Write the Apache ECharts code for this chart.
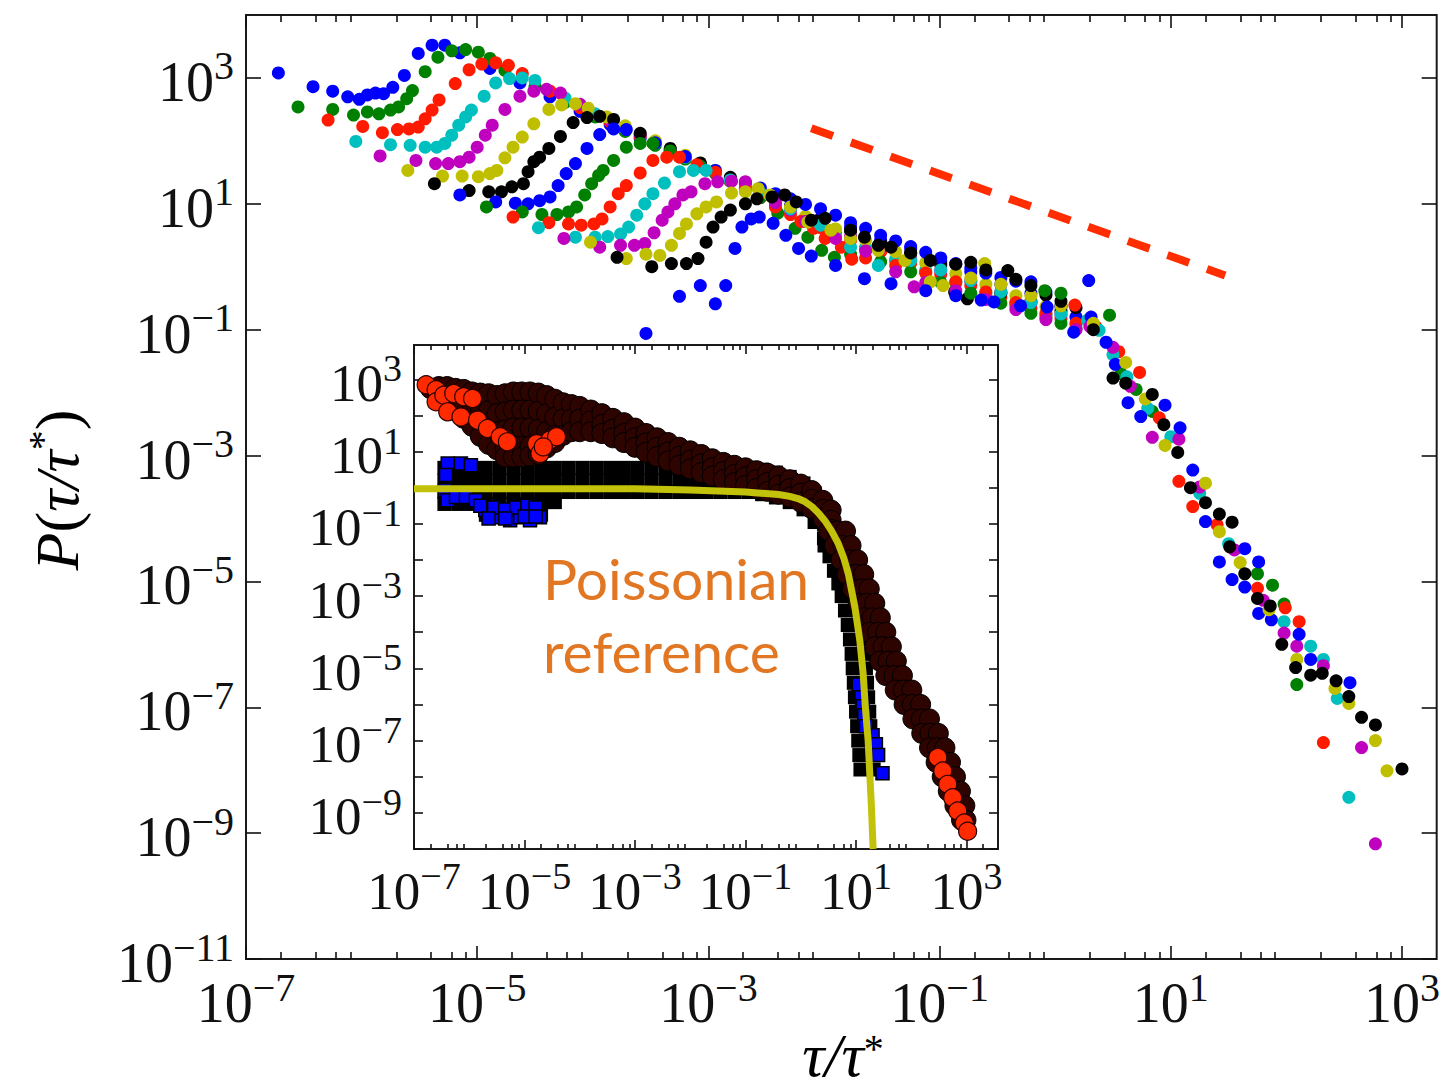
<!DOCTYPE html>
<html><head><meta charset="utf-8">
<script src="https://cdn.jsdelivr.net/npm/echarts@6/dist/echarts.min.js"></script>
<style>html,body{margin:0;padding:0;background:#fff}#c{width:1443px;height:1090px}</style>
</head><body><div id="c"></div>
<script>
// All values are base-10 exponents: [log10(tau/tau*), log10(P)]
// ---------- main panel: 15 rescaled curves ----------
const curveB1 = [[-6.72,3.08],[-6.42,2.86],[-6.25,2.79],[-6.12,2.70],[-6.02,2.66],[-5.95,2.73],[-5.88,2.76],[-5.81,2.75],[-5.73,2.85],[-5.63,3.04],[-5.51,3.39],[-5.39,3.52],[-5.28,3.52],[-5.15,3.40],[-4.89,3.15],[-4.63,2.92],[-4.37,2.70],[-4.11,2.47],[-3.85,2.26],[-3.59,2.04],[-3.33,1.82],[-3.07,1.60],[-2.81,1.38],[-2.55,1.16],[-2.29,0.97],[-2.03,0.77],[-1.77,0.63],[-1.51,0.42],[-1.25,0.29],[-0.99,0.08],[-0.73,-0.08],[-0.47,-0.28],[-0.21,-0.42],[0.05,-0.63]];
const curveG1 = [[-6.55,2.54],[-6.25,2.50],[-6.07,2.41],[-5.95,2.46],[-5.85,2.43],[-5.75,2.49],[-5.68,2.54],[-5.61,2.67],[-5.56,2.80],[-5.45,3.10],[-5.34,3.33],[-5.22,3.43],[-5.10,3.45],[-4.99,3.41],[-4.89,3.31],[-4.76,3.12],[-4.50,2.86],[-4.24,2.61],[-3.98,2.38],[-3.72,2.15],[-3.46,1.93],[-3.20,1.71],[-2.94,1.48],[-2.68,1.24],[-2.42,0.98],[-2.16,0.72],[-1.90,0.52],[-1.64,0.30],[-1.38,0.10],[-1.12,-0.08],[-0.86,-0.26],[-0.60,-0.45],[-0.34,-0.62],[-0.08,-0.80],[0.18,-0.98]];
const curveR1 = [[-6.29,2.33],[-5.99,2.23],[-5.82,2.13],[-5.69,2.18],[-5.59,2.19],[-5.51,2.22],[-5.45,2.35],[-5.39,2.49],[-5.33,2.65],[-5.19,2.91],[-5.07,3.13],[-4.96,3.22],[-4.84,3.24],[-4.73,3.20],[-4.61,3.07],[-4.37,2.79],[-4.11,2.53],[-3.85,2.30],[-3.59,2.07],[-3.33,1.84],[-3.07,1.61],[-2.81,1.36],[-2.55,1.10],[-2.29,0.83],[-2.03,0.62],[-1.77,0.42],[-1.51,0.24],[-1.25,0.06],[-0.99,-0.12],[-0.73,-0.30],[-0.47,-0.48],[-0.21,-0.66],[0.05,-0.82]];
const curveC1 = [[-6.05,1.99],[-5.75,1.94],[-5.58,1.93],[-5.45,1.90],[-5.35,1.90],[-5.28,1.96],[-5.22,2.09],[-5.16,2.25],[-5.10,2.38],[-5.05,2.49],[-4.94,2.71],[-4.84,2.92],[-4.72,2.99],[-4.61,3.00],[-4.50,2.96],[-4.24,2.68],[-3.98,2.43],[-3.72,2.20],[-3.46,1.97],[-3.20,1.74],[-2.94,1.51],[-2.68,1.27],[-2.42,1.00],[-2.16,0.73],[-1.90,0.50],[-1.64,0.30],[-1.38,0.12],[-1.12,-0.06],[-0.86,-0.24],[-0.60,-0.41],[-0.34,-0.58],[-0.08,-0.76],[0.18,-0.92]];
const curveM1 = [[-5.84,1.76],[-5.53,1.69],[-5.36,1.64],[-5.25,1.64],[-5.15,1.67],[-5.07,1.74],[-5.00,1.90],[-4.93,2.09],[-4.87,2.25],[-4.76,2.50],[-4.63,2.71],[-4.51,2.79],[-4.40,2.82],[-4.28,2.76],[-4.11,2.58],[-3.85,2.33],[-3.59,2.10],[-3.33,1.86],[-3.07,1.63],[-2.81,1.40],[-2.55,1.15],[-2.29,0.90],[-2.03,0.68],[-1.77,0.48],[-1.51,0.30],[-1.25,0.12],[-0.99,-0.06],[-0.73,-0.23],[-0.47,-0.40],[-0.21,-0.58],[0.05,-0.76]];
const curveY1 = [[-5.60,1.53],[-5.30,1.44],[-5.13,1.44],[-4.99,1.43],[-4.89,1.48],[-4.83,1.53],[-4.76,1.73],[-4.69,1.90],[-4.61,2.06],[-4.51,2.27],[-4.38,2.50],[-4.27,2.57],[-4.15,2.59],[-4.04,2.52],[-3.88,2.38],[-3.72,2.24],[-3.46,2.00],[-3.20,1.77],[-2.94,1.53],[-2.68,1.30],[-2.42,1.03],[-2.16,0.80],[-1.90,0.60],[-1.64,0.42],[-1.38,0.24],[-1.12,0.06],[-0.86,-0.11],[-0.60,-0.28],[-0.34,-0.46],[-0.08,-0.63],[0.18,-0.80]];
const curveK1 = [[-5.37,1.32],[-5.07,1.21],[-4.90,1.19],[-4.79,1.19],[-4.70,1.27],[-4.60,1.32],[-4.56,1.51],[-4.51,1.67],[-4.46,1.74],[-4.38,1.88],[-4.28,2.07],[-4.17,2.29],[-4.05,2.37],[-3.94,2.39],[-3.82,2.34],[-3.59,2.12],[-3.33,1.88],[-3.07,1.65],[-2.81,1.42],[-2.55,1.18],[-2.29,0.95],[-2.03,0.75],[-1.77,0.57],[-1.51,0.38],[-1.25,0.22],[-0.99,0.03],[-0.87,-0.40],[-0.76,-0.51],[-0.47,-0.42],[-0.21,-0.55],[0.05,-0.70]];
const curveB2 = [[-5.15,1.14],[-4.84,1.03],[-4.67,1.01],[-4.56,1.00],[-4.46,1.05],[-4.37,1.11],[-4.30,1.29],[-4.23,1.48],[-4.15,1.64],[-4.05,1.88],[-3.94,2.10],[-3.82,2.19],[-3.71,2.18],[-3.46,1.97],[-3.20,1.75],[-2.94,1.53],[-2.68,1.34],[-2.55,1.25],[-2.42,1.16],[-2.29,1.08],[-2.16,0.99],[-2.03,0.92],[-1.90,0.82],[-1.77,0.70],[-1.64,0.61],[-1.51,0.50],[-1.38,0.41],[-1.25,0.32],[-1.12,0.23],[-0.99,0.14],[-0.86,0.05],[-0.73,-0.02],[-0.60,-0.10],[-0.47,-0.17],[-0.34,-0.23],[-0.21,-0.24],[-0.08,-0.40],[0.05,-0.62],[0.18,-0.80]];
const curveG2 = [[-4.92,0.95],[-4.61,0.87],[-4.44,0.83],[-4.31,0.83],[-4.21,0.87],[-4.14,0.95],[-4.07,1.14],[-4.01,1.32],[-3.95,1.45],[-3.91,1.53],[-3.82,1.69],[-3.71,1.90],[-3.59,1.96],[-3.48,1.96],[-3.33,1.84],[-3.07,1.60],[-2.81,1.36],[-2.55,1.10],[-2.40,0.85],[-2.25,0.61],[-2.14,0.47],[-2.02,0.26],[-1.91,0.15],[-1.77,0.20],[-1.51,0.08],[-1.25,-0.08],[-0.99,-0.25],[-0.73,-0.42],[-0.47,-0.58],[-0.21,-0.74],[0.05,-0.90]];
const curveR2 = [[-4.69,0.79],[-4.38,0.70],[-4.21,0.68],[-4.10,0.66],[-3.99,0.68],[-3.92,0.76],[-3.85,0.95],[-3.78,1.16],[-3.71,1.29],[-3.59,1.49],[-3.48,1.69],[-3.36,1.74],[-3.25,1.74],[-3.10,1.62],[-2.94,1.50],[-2.68,1.25],[-2.42,0.95],[-2.20,0.72],[-2.09,0.61],[-1.99,0.45],[-1.85,0.31],[-1.76,0.12],[-1.64,0.14],[-1.38,0.02],[-1.12,-0.10],[-0.86,-0.24],[-0.60,-0.40],[-0.34,-0.57],[-0.08,-0.74],[0.18,-0.90]];
const curveC2 = [[-4.47,0.62],[-4.15,0.47],[-3.98,0.47],[-3.87,0.48],[-3.76,0.52],[-3.69,0.63],[-3.62,0.82],[-3.55,1.00],[-3.48,1.16],[-3.38,1.33],[-3.25,1.51],[-3.13,1.53],[-3.02,1.53],[-2.81,1.38],[-2.55,1.17],[-2.29,0.92],[-2.03,0.66],[-1.77,0.31],[-1.53,0.02],[-1.25,0.10],[-0.99,-0.05],[-0.73,-0.22],[-0.47,-0.40],[-0.21,-0.57],[0.05,-0.75]];
const curveM2 = [[-4.25,0.45],[-3.94,0.31],[-3.76,0.34],[-3.64,0.34],[-3.55,0.37],[-3.47,0.54],[-3.40,0.74],[-3.35,0.87],[-3.29,1.00],[-3.22,1.14],[-3.15,1.19],[-3.03,1.32],[-2.92,1.35],[-2.80,1.36],[-2.68,1.35],[-2.42,1.02],[-2.16,0.72],[-1.90,0.45],[-1.64,0.25],[-1.38,-0.08],[-1.22,-0.32],[-1.12,-0.25],[-0.86,-0.38],[-0.60,-0.52],[-0.34,-0.68],[-0.08,-0.84],[0.18,-1.00]];
const curveY2 = [[-4.02,0.39],[-3.71,0.13],[-3.54,0.20],[-3.42,0.18],[-3.32,0.34],[-3.25,0.53],[-3.19,0.68],[-3.10,0.84],[-3.02,0.95],[-2.93,1.03],[-2.80,1.17],[-2.68,1.19],[-2.57,1.24],[-2.47,1.14],[-2.29,0.95],[-2.14,0.71],[-1.94,0.58],[-1.77,0.45],[-1.53,0.26],[-1.30,0.10],[-1.08,-0.24],[-0.97,-0.30],[-0.73,-0.18],[-0.61,0.05],[-0.47,-0.28],[-0.21,-0.46],[0.05,-0.62]];
const curveK2 = [[-3.79,0.15],[-3.49,0.00],[-3.32,0.05],[-3.19,0.05],[-3.09,0.13],[-3.02,0.39],[-2.96,0.63],[-2.89,0.79],[-2.81,0.90],[-2.68,1.00],[-2.58,1.08],[-2.45,1.11],[-2.34,1.14],[-2.24,1.03],[-2.11,0.74],[-1.99,0.77],[-1.77,0.58],[-1.65,0.47],[-1.53,0.34],[-1.42,0.31],[-1.25,0.22],[-1.08,0.10],[-0.86,0.04],[-0.73,0.07],[-0.60,-0.05],[-0.41,-0.06],[-0.34,-0.20],[-0.21,-0.30],[-0.08,-0.45],[0.05,-0.55],[0.18,-0.65]];
const curveB3 = [[-3.54,-1.06],[-3.25,-0.47],[-3.07,-0.30],[-2.94,-0.59],[-2.85,-0.30],[-2.77,0.29],[-2.71,0.63],[-2.63,0.76],[-2.56,0.79],[-2.44,0.69],[-2.33,0.50],[-2.22,0.29],[-2.11,0.17],[-1.90,0.02],[-1.65,-0.19],[-1.42,-0.27],[-1.12,-0.38],[-0.86,-0.46],[-0.64,-0.53],[-0.53,-0.56],[-0.30,-0.62],[-0.07,-0.64]];
// steep tail beyond the cutoff, per colour
const tailGreen = [[-0.09,-0.38],[0.05,-0.42],[0.47,-0.77],[0.31,-0.95],[0.57,-1.70],[0.70,-1.95],[0.84,-2.30],[1.75,-4.88],[1.88,-5.06],[1.98,-5.36],[2.09,-6.64]];
const tailRed = [[0.17,-0.61],[0.35,-0.95],[0.55,-1.35],[0.73,-1.68],[0.90,-2.40],[1.07,-3.41],[1.19,-3.81],[1.40,-4.10],[1.75,-5.11],[1.99,-5.42],[2.11,-5.64],[2.32,-7.56]];
const tailCyan = [[0.28,-0.85],[0.38,-1.01],[0.50,-1.40],[0.62,-1.75],[0.80,-2.25],[1.00,-2.70],[1.25,-3.60],[1.50,-4.40],[1.98,-5.64],[2.21,-6.03],[2.32,-6.24],[2.44,-6.86],[2.54,-8.43]];
const tailMagenta = [[0.30,-0.95],[0.50,-1.28],[0.65,-1.90],[0.84,-2.71],[1.07,-2.74],[1.25,-3.50],[1.55,-4.50],[1.80,-5.30],[1.98,-5.82],[2.09,-6.03],[2.32,-6.34],[2.65,-7.64],[2.77,-9.17]];
const tailBlue = [[0.29,-0.22],[0.16,-1.04],[0.31,-0.80],[0.44,-1.20],[0.52,-1.55],[0.63,-2.16],[0.74,-2.38],[0.95,-2.20],[1.08,-2.56],[1.19,-3.23],[1.30,-4.05],[1.42,-4.69],[1.53,-4.97],[1.64,-4.48],[1.64,-5.09],[1.76,-4.69],[1.76,-5.51],[1.87,-5.61],[2.11,-5.84],[2.21,-6.24],[2.55,-6.61]];
const tailYellow = [[0.33,-0.90],[0.61,-1.52],[0.78,-2.10],[0.95,-2.84],[1.30,-3.44],[1.42,-4.21],[1.60,-4.70],[1.85,-5.45],[2.09,-6.24],[2.42,-6.70],[2.54,-6.94],[2.77,-7.53],[2.87,-8.01]];
const tailBlack = [[0.33,-1.00],[0.50,-1.77],[0.61,-1.85],[0.84,-2.03],[0.94,-2.51],[1.06,-2.95],[1.17,-3.51],[1.30,-3.75],[1.42,-3.93],[1.53,-4.06],[1.51,-4.45],[1.64,-4.88],[1.75,-5.27],[1.86,-5.39],[1.96,-6.00],[2.08,-6.37],[2.21,-6.49],[2.31,-6.46],[2.43,-6.58],[2.54,-6.83],[2.65,-7.16],[2.77,-7.28],[3.00,-7.98]];
// dashed guide line (endpoints)
const guideX = [-2.11, 1.47];
const guideY = [2.20, -0.14];

// ---------- inset ----------
const insetRedDark = [[-6.70,2.74],[-6.55,2.80],[-6.55,2.50],[-6.40,2.80],[-6.40,2.55],[-6.40,2.30],[-6.25,2.75],[-6.25,2.44],[-6.25,2.13],[-6.10,2.72],[-6.10,2.32],[-6.10,1.92],[-5.95,2.65],[-5.95,2.17],[-5.95,1.70],[-5.80,2.62],[-5.80,2.22],[-5.80,1.82],[-5.80,1.42],[-5.65,2.60],[-5.65,2.13],[-5.65,1.67],[-5.65,1.20],[-5.50,2.55],[-5.50,2.05],[-5.50,1.55],[-5.50,1.05],[-5.35,2.60],[-5.35,2.10],[-5.35,1.60],[-5.35,1.10],[-5.35,0.85],[-5.20,2.65],[-5.20,2.15],[-5.20,1.65],[-5.20,1.15],[-5.20,0.85],[-5.05,2.65],[-5.05,2.15],[-5.05,1.65],[-5.05,1.15],[-5.05,0.85],[-4.90,2.65],[-4.90,2.15],[-4.90,1.65],[-4.90,1.15],[-4.90,0.88],[-4.75,2.62],[-4.75,2.12],[-4.75,1.62],[-4.75,1.12],[-4.75,0.92],[-4.60,2.55],[-4.60,2.05],[-4.60,1.55],[-4.60,1.10],[-4.45,2.45],[-4.45,1.95],[-4.45,1.45],[-4.45,1.25],[-4.30,2.35],[-4.30,1.90],[-4.30,1.45],[-4.15,2.30],[-4.15,1.90],[-4.15,1.55],[-4.00,2.25],[-4.00,1.90],[-4.00,1.55],[-3.80,2.15],[-3.80,1.85],[-3.80,1.55],[-3.60,2.05],[-3.60,1.75],[-3.60,1.50],[-3.40,1.92],[-3.40,1.62],[-3.40,1.38],[-3.20,1.80],[-3.20,1.50],[-3.20,1.25],[-3.00,1.65],[-3.00,1.38],[-3.00,1.12],[-2.80,1.50],[-2.80,1.24],[-2.80,0.98],[-2.60,1.38],[-2.60,1.12],[-2.60,0.86],[-2.40,1.25],[-2.40,0.99],[-2.40,0.74],[-2.20,1.12],[-2.20,0.87],[-2.20,0.62],[-2.00,1.02],[-2.00,0.76],[-2.00,0.52],[-1.80,0.92],[-1.80,0.66],[-1.80,0.42],[-1.60,0.80],[-1.60,0.55],[-1.60,0.32],[-1.40,0.70],[-1.40,0.45],[-1.40,0.22],[-1.20,0.62],[-1.20,0.37],[-1.20,0.14],[-1.00,0.55],[-1.00,0.30],[-1.00,0.06],[-0.80,0.47],[-0.80,0.22],[-0.80,-0.02],[-0.60,0.40],[-0.60,0.15],[-0.60,-0.10],[-0.40,0.32],[-0.40,0.07],[-0.40,-0.18],[-0.20,0.22],[-0.20,-0.02],[-0.20,-0.26],[0.00,0.10],[0.00,-0.15],[0.00,-0.40],[0.20,-0.08],[0.20,-0.32],[0.20,-0.58],[0.40,-0.35],[0.40,-0.60],[0.40,-0.85],[0.55,-0.62],[0.55,-0.90],[0.55,-1.15],[0.51,-1.2],[0.66,-1.2],[0.81,-1.2],[0.61,-1.6],[0.76,-1.6],[0.91,-1.6],[0.73,-2.0],[0.88,-2.0],[1.03,-2.0],[0.84,-2.4],[0.99,-2.4],[1.14,-2.4],[0.94,-2.8],[1.09,-2.8],[1.24,-2.8],[1.04,-3.2],[1.19,-3.2],[1.34,-3.2],[1.14,-3.6],[1.29,-3.6],[1.44,-3.6],[1.24,-4.0],[1.39,-4.0],[1.54,-4.0],[1.34,-4.4],[1.49,-4.4],[1.64,-4.4],[1.43,-4.8],[1.58,-4.8],[1.73,-4.8],[1.54,-5.2],[1.69,-5.2],[1.84,-5.2],[1.71,-5.6],[1.86,-5.6],[2.01,-5.6],[1.87,-6.0],[2.02,-6.0],[2.17,-6.0],[2.03,-6.4],[2.18,-6.4],[2.33,-6.4],[2.19,-6.8],[2.34,-6.8],[2.49,-6.8],[2.33,-7.2],[2.47,-7.2],[2.61,-7.2],[2.45,-7.6],[2.58,-7.6],[2.71,-7.6],[2.56,-8.0],[2.68,-8.0],[2.80,-8.0],[2.67,-8.4],[2.78,-8.4],[2.89,-8.4],[2.79,-8.8],[2.88,-8.8],[2.97,-8.8],[2.91,-9.2],[2.99,-9.2]];
const insetRedBright = [[-6.78,2.85],[-6.60,2.71],[-6.60,2.38],[-6.46,2.56],[-6.28,2.61],[-6.39,2.10],[-6.10,2.52],[-5.94,2.47],[-6.15,1.96],[-5.85,1.87],[-5.67,1.64],[-5.44,1.41],[-5.31,1.27],[-4.78,1.22],[-4.72,0.95],[-4.54,1.32],[-4.42,1.41],[-4.66,1.13],[2.48,-7.47],[2.57,-7.84],[2.66,-8.21],[2.75,-8.58],[2.84,-8.95],[2.96,-9.28],[3.02,-9.51]];
const insetSquaresDark = [[-6.45,0.55],[-6.45,0.20],[-6.45,-0.12],[-6.45,-0.45],[-6.20,0.55],[-6.20,0.20],[-6.20,-0.12],[-6.20,-0.45],[-5.95,0.55],[-5.95,0.20],[-5.95,-0.12],[-5.95,-0.45],[-5.70,0.55],[-5.70,0.20],[-5.70,-0.12],[-5.70,-0.45],[-5.70,-0.75],[-5.45,0.55],[-5.45,0.20],[-5.45,-0.12],[-5.45,-0.45],[-5.45,-0.75],[-5.20,0.55],[-5.20,0.20],[-5.20,-0.12],[-5.20,-0.45],[-5.20,-0.75],[-4.95,0.55],[-4.95,0.20],[-4.95,-0.12],[-4.95,-0.45],[-4.95,-0.75],[-4.70,0.55],[-4.70,0.20],[-4.70,-0.12],[-4.70,-0.45],[-4.70,-0.75],[-4.45,0.55],[-4.45,0.20],[-4.45,-0.12],[-4.45,-0.40],[-4.20,0.55],[-4.20,0.20],[-4.20,-0.12],[-3.95,0.55],[-3.95,0.20],[-3.95,-0.12],[-3.70,0.55],[-3.70,0.20],[-3.70,-0.12],[-3.45,0.55],[-3.45,0.20],[-3.45,-0.12],[-3.20,0.55],[-3.20,0.20],[-3.20,-0.12],[-2.95,0.55],[-2.95,0.20],[-2.95,-0.12],[-2.70,0.55],[-2.70,0.20],[-2.70,-0.12],[-2.45,0.55],[-2.45,0.20],[-2.45,-0.12],[-2.20,0.55],[-2.20,0.20],[-2.20,-0.12],[-1.95,0.55],[-1.95,0.20],[-1.95,-0.12],[-1.70,0.55],[-1.70,0.20],[-1.70,-0.12],[-1.45,0.55],[-1.45,0.20],[-1.45,-0.12],[-1.20,0.55],[-1.20,0.20],[-1.20,-0.12],[-0.95,0.55],[-0.95,0.20],[-0.95,-0.12],[-0.70,0.50],[-0.70,0.15],[-0.70,-0.18],[-0.45,0.42],[-0.45,0.07],[-0.45,-0.27],[-0.20,0.30],[-0.20,-0.05],[-0.20,-0.40],[0.05,0.12],[0.05,-0.25],[0.05,-0.60],[0.25,-0.15],[0.25,-0.55],[0.25,-0.95],[0.42,-0.60],[0.42,-1.00],[0.42,-1.40],[0.43,-1.6],[0.67,-1.6],[0.52,-1.9],[0.76,-1.9],[0.60,-2.3],[0.84,-2.3],[0.68,-2.65],[0.92,-2.65],[0.74,-3.0],[0.98,-3.0],[0.80,-3.4],[1.04,-3.4],[0.85,-3.8],[1.09,-3.8],[0.89,-4.2],[1.13,-4.2],[0.92,-4.6],[1.16,-4.6],[0.94,-5.0],[1.18,-5.0],[0.96,-5.4],[1.20,-5.4],[0.98,-5.8],[1.22,-5.8],[1.00,-6.2],[1.24,-6.2],[1.02,-6.6],[1.26,-6.6],[1.04,-7.0],[1.28,-7.0],[1.06,-7.4],[1.30,-7.4],[1.08,-7.8],[1.32,-7.8]];
const insetSquaresBlue = [[-6.39,0.67],[-6.15,0.67],[-5.97,0.62],[-6.42,0.35],[-6.44,-0.07],[-6.39,-0.35],[-6.24,-0.26],[-6.06,-0.26],[-5.88,-0.35],[-5.71,-0.62],[-5.62,-0.76],[-5.44,-0.82],[-5.26,-0.90],[-5.08,-0.82],[-4.90,-0.68],[-4.72,-0.82],[-4.90,-0.90],[-5.80,-0.50],[-5.55,-0.55],[-5.35,-0.60],[-5.15,-0.55],[-4.95,-0.50],[-4.80,-0.55],[-5.65,-0.85],[-5.35,-0.85],[-5.00,-0.80],[-4.80,-0.80],[1.05,-5.45],[1.10,-5.80],[1.12,-6.05],[1.15,-6.30],[1.18,-6.60],[1.30,-6.85],[1.36,-7.10],[1.40,-7.40],[1.48,-7.90]];
const poissonRef = [[-7.00,-0.03],[-3.00,-0.03],[-2.00,-0.06],[-1.50,-0.09],[-1.00,-0.12],[-0.64,-0.16],[-0.40,-0.19],[-0.20,-0.24],[-0.05,-0.30],[0.08,-0.39],[0.20,-0.52],[0.32,-0.70],[0.44,-0.92],[0.56,-1.20],[0.68,-1.55],[0.78,-1.95],[0.86,-2.38],[0.98,-3.31],[1.07,-4.24],[1.13,-5.16],[1.17,-6.09],[1.22,-7.01],[1.25,-7.94],[1.28,-8.86],[1.31,-10.00]];

// tick values (exponents)
const mainXMajor = [-7,-5,-3,-1,1,3];
const mainYMajor = [-11,-9,-7,-5,-3,-1,1,3];
const insetXMajor = [-7,-5,-3,-1,1,3];
const insetYTicks = [-10,-9,-8,-7,-6,-5,-4,-3,-2,-1,0,1,2,3];
const insetYLabels = [-9,-7,-5,-3,-1,1,3];
const MINOR_MULT = [2,4,6,8];

const curveList = [curveB1,curveG1,curveR1,curveC1,curveM1,curveY1,curveK1,curveB2,curveG2,curveR2,curveC2,curveM2,curveY2,curveK2,curveB3];
const C = {b:'#0000ff', g:'#008000', r:'#ff1a00', c:'#00bfbf', m:'#bf00bf', y:'#bfbf00', k:'#000000'};
const curveColors = [C.b,C.g,C.r,C.c,C.m,C.y,C.k,C.b,C.g,C.r,C.c,C.m,C.y,C.k,C.b];
const tailList = [[tailGreen,C.g],[tailRed,C.r],[tailCyan,C.c],[tailMagenta,C.m],[tailBlue,C.b],[tailYellow,C.y],[tailBlack,C.k]];

function minorTicks(lo, hi){
  const out=[];
  for(let e=Math.floor(lo); e<hi; e++){
    for(const k of MINOR_MULT){ const v=e+Math.log10(k); if(v>lo && v<hi) out.push(+v.toFixed(5)); }
  }
  return out;
}
function expLabel(v){
  const n=Math.round(v);
  return '{b|10}{s|'+(n<0?'\u2212'+Math.abs(n):String(n))+'}';
}
const F = "'Liberation Serif','DejaVu Serif',serif";
const richMain = {
  b:{fontFamily:F,fontSize:56,lineHeight:64,verticalAlign:'bottom',color:'#111'},
  s:{fontFamily:F,fontSize:40,lineHeight:40,verticalAlign:'top',color:'#111'}
};
const richInset = {
  b:{fontFamily:F,fontSize:53,lineHeight:60,verticalAlign:'bottom',color:'#111'},
  s:{fontFamily:F,fontSize:38,lineHeight:38,verticalAlign:'top',color:'#111'}
};
const TK = {color:'#111', width:1.6};

function axis(o){
  return Object.assign({type:'value', splitLine:{show:false}, axisLine:{show:false,onZero:false},
    axisPointer:{show:false}, axisLabel:{show:false}}, o);
}
const MX=[-7,3.3], MY=[-11,4], IX=[-7,3.57], IY=[-10,3.95];

const xAxis = [
  axis({gridIndex:0,min:MX[0],max:MX[1],position:'bottom',
    axisTick:{show:true,inside:true,length:13,customValues:mainXMajor,lineStyle:TK},
    axisLabel:{show:true,customValues:mainXMajor,formatter:expLabel,margin:8,rich:richMain}}),
  axis({gridIndex:0,min:MX[0],max:MX[1],position:'bottom',
    axisTick:{show:true,inside:true,length:7,customValues:minorTicks(MX[0],MX[1]),lineStyle:TK}}),
  axis({gridIndex:0,min:MX[0],max:MX[1],position:'top',
    axisTick:{show:true,inside:true,length:13,customValues:mainXMajor,lineStyle:TK}}),
  axis({gridIndex:0,min:MX[0],max:MX[1],position:'top',
    axisTick:{show:true,inside:true,length:7,customValues:minorTicks(MX[0],MX[1]),lineStyle:TK}}),
  axis({gridIndex:1,min:IX[0],max:IX[1],position:'bottom',
    axisTick:{show:true,inside:true,length:9,customValues:insetXMajor,lineStyle:TK},
    axisLabel:{show:true,customValues:insetXMajor,formatter:expLabel,margin:8,rich:richInset}}),
  axis({gridIndex:1,min:IX[0],max:IX[1],position:'bottom',
    axisTick:{show:true,inside:true,length:5,customValues:minorTicks(IX[0],IX[1]),lineStyle:TK}}),
  axis({gridIndex:1,min:IX[0],max:IX[1],position:'top',
    axisTick:{show:true,inside:true,length:9,customValues:insetXMajor,lineStyle:TK}}),
  axis({gridIndex:1,min:IX[0],max:IX[1],position:'top',
    axisTick:{show:true,inside:true,length:5,customValues:minorTicks(IX[0],IX[1]),lineStyle:TK}})
];
const yAxis = [
  axis({gridIndex:0,min:MY[0],max:MY[1],position:'left',
    axisTick:{show:true,inside:true,length:15,customValues:mainYMajor,lineStyle:TK},
    axisLabel:{show:true,customValues:mainYMajor,formatter:expLabel,margin:12,rich:richMain}}),
  axis({gridIndex:0,min:MY[0],max:MY[1],position:'right',
    axisTick:{show:true,inside:true,length:15,customValues:mainYMajor,lineStyle:TK}}),
  axis({gridIndex:1,min:IY[0],max:IY[1],position:'left',
    axisTick:{show:true,inside:true,length:9,customValues:insetYTicks,lineStyle:TK},
    axisLabel:{show:true,customValues:insetYLabels,formatter:expLabel,margin:12,rich:richInset}}),
  axis({gridIndex:1,min:IY[0],max:IY[1],position:'right',
    axisTick:{show:true,inside:true,length:9,customValues:insetYTicks,lineStyle:TK}})
];

const series = [];
curveList.forEach((d,i)=>series.push({type:'scatter',xAxisIndex:0,yAxisIndex:0,data:d,symbol:'circle',symbolSize:13,
  itemStyle:{color:curveColors[i],opacity:1},silent:true,z:2}));
tailList.forEach(([d,c])=>series.push({type:'scatter',xAxisIndex:0,yAxisIndex:0,data:d,symbol:'circle',symbolSize:13,
  itemStyle:{color:c,opacity:1},silent:true,z:2}));
series.push({type:'line',xAxisIndex:0,yAxisIndex:0,data:guideX.map((x,i)=>[x,guideY[i]]),symbol:'none',silent:true,z:3,
  lineStyle:{color:'#ff2d00',width:8,type:[23,19],cap:'butt',opacity:1}});
// inset
series.push({type:'scatter',xAxisIndex:4,yAxisIndex:2,data:insetSquaresDark,symbol:'rect',symbolSize:14,
  itemStyle:{color:'#000',opacity:1},silent:true,z:4});
series.push({type:'scatter',xAxisIndex:4,yAxisIndex:2,data:insetSquaresBlue,symbol:'rect',symbolSize:13,
  itemStyle:{color:'#0000ff',borderColor:'#000',borderWidth:1.5,opacity:1},silent:true,z:4});
series.push({type:'scatter',xAxisIndex:4,yAxisIndex:2,data:insetRedDark,symbol:'circle',symbolSize:20,
  itemStyle:{color:'#2e0400',borderColor:'#000',borderWidth:1,opacity:1},silent:true,z:4});
series.push({type:'scatter',xAxisIndex:4,yAxisIndex:2,data:insetRedBright,symbol:'circle',symbolSize:18,
  itemStyle:{color:'#ff2a00',borderColor:'#2a0000',borderWidth:1.2,opacity:1},silent:true,z:4});
series.push({type:'line',xAxisIndex:4,yAxisIndex:2,data:poissonRef,symbol:'none',silent:true,z:5,
  lineStyle:{color:'#c2c20a',width:7,opacity:1,join:'round'}});

const option = {
  animation:false,
  backgroundColor:'#fff',
  textStyle:{fontFamily:F},
  grid:[
    {left:246,top:15,width:1191,height:944,show:true,borderColor:'#1a1a1a',borderWidth:2,backgroundColor:'transparent'},
    {left:414,top:345,width:584,height:504,show:true,borderColor:'#1a1a1a',borderWidth:2,backgroundColor:'#fff'}
  ],
  xAxis, yAxis, series,
  graphic:[
    {type:'text',x:843,y:1057,z:10,style:{text:'{i|\u03c4/\u03c4}{s|*}',align:'center',verticalAlign:'middle',textAlign:'center',textVerticalAlign:'middle',
      rich:{i:{fontFamily:F,fontStyle:'italic',fontSize:62,lineHeight:58,verticalAlign:'bottom',color:'#111'},
            s:{fontFamily:F,fontSize:40,lineHeight:40,verticalAlign:'top',color:'#111'}}}},
    {type:'text',x:55,y:490,rotation:Math.PI/2,z:10,style:{text:'{i|P}{n|(}{i|\u03c4/\u03c4}{s|*}{n|)}',align:'center',verticalAlign:'middle',textAlign:'center',textVerticalAlign:'middle',
      rich:{i:{fontFamily:F,fontStyle:'italic',fontSize:62,lineHeight:66,verticalAlign:'bottom',color:'#111'},
            n:{fontFamily:F,fontSize:62,lineHeight:66,verticalAlign:'bottom',color:'#111'},
            s:{fontFamily:F,fontSize:40,lineHeight:40,verticalAlign:'top',color:'#111'}}}},
    {type:'text',x:543,y:578,z:10,style:{text:'Poissonian',font:'57px Lato',fill:'#e17623',align:'left',verticalAlign:'middle',textAlign:'left',textVerticalAlign:'middle'}},
    {type:'text',x:543,y:651,z:10,style:{text:'reference',font:'57px Lato',fill:'#e17623',align:'left',verticalAlign:'middle',textAlign:'left',textVerticalAlign:'middle'}}
  ]
};
const chart = echarts.init(document.getElementById('c'), null, {renderer:'svg', width:1443, height:1090});
chart.setOption(option);
</script></body></html>
